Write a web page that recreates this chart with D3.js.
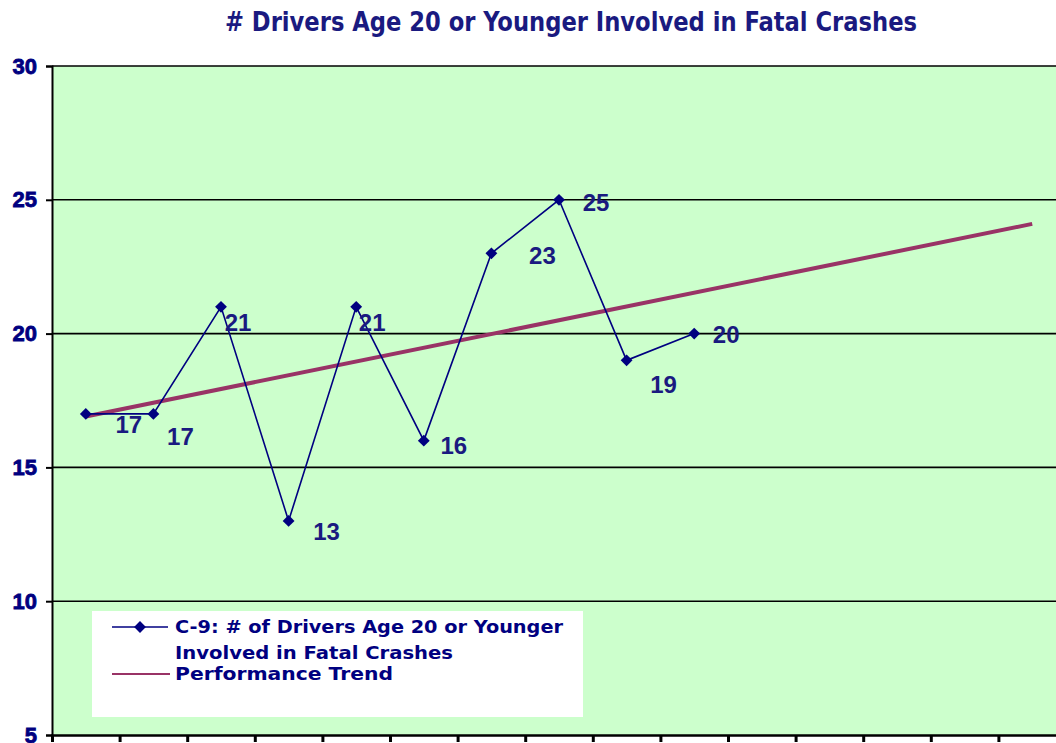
<!DOCTYPE html>
<html>
<head>
<meta charset="utf-8">
<script src="https://cdn.jsdelivr.net/npm/d3@7"></script>
<style>
  body { margin: 0; background: #fff; }
  svg { display: block; }
</style>
</head>
<body>
<div id="chart"></div>
<script>
// chart values
const slots = [1, 2, 3, 4, 5, 6, 7, 8, 9, 10, 11, 12, 13, 14, 15];
const drivers = [17, 17, 21, 13, 21, 16, 23, 25, 19, 20];
const trendSlots = [1, 15];
const trendValues = [16.9, 24.1];
const yTicks = [5, 10, 15, 20, 25, 30];
const titleText = '# Drivers Age 20 or Younger Involved in Fatal Crashes';
const legendSeries = ['C-9: # of Drivers Age 20 or Younger', 'Involved in Fatal Crashes'];
const legendTrend = 'Performance Trend';

// where each value label sits relative to its point (px)
const labelShift = [[43, 10], [27, 22], [17, 16], [38, 10], [16, 16], [30, 5], [51, 2], [37, 3], [37, 24], [32, 1]];

const W = 1056, H = 743;
const margin = { left: 52, top: 66, right: -10, bottom: 8 };
const navy = '#000080';
const trendColor = '#993366';

const svg = d3.select('#chart').append('svg')
    .attr('width', W)
    .attr('height', H);

const x = d3.scaleLinear()
    .domain([0, slots.length])
    .range([margin.left, W - margin.right]);
const y = d3.scaleLinear()
    .domain([5, 30])
    .range([H - margin.bottom, margin.top]);

// plot area
svg.append('rect')
    .attr('x', x(0))
    .attr('y', y(30))
    .attr('width', x(slots.length) - x(0))
    .attr('height', y(5) - y(30))
    .attr('fill', '#ccffcc');

// gridlines
svg.append('g')
    .selectAll('line')
    .data(yTicks.filter(d => d > 5))
    .join('line')
    .attr('x1', x(0))
    .attr('x2', x(slots.length))
    .attr('y1', d => y(d))
    .attr('y2', d => y(d))
    .attr('stroke', '#000')
    .attr('stroke-width', 1.6);

// axes
const yAxis = svg.append('g')
    .attr('transform', `translate(${x(0)},0)`)
    .call(d3.axisLeft(y).tickValues(yTicks).tickSize(6).tickPadding(9));
yAxis.select('.domain').attr('stroke', '#000').attr('stroke-width', 2);
yAxis.selectAll('.tick line').attr('stroke', '#000').attr('stroke-width', 2);
yAxis.selectAll('text')
    .attr('fill', navy)
    .attr('stroke', navy)
    .attr('stroke-width', 0.8)
    .attr('font-family', '"Liberation Sans", Arial, sans-serif')
    .attr('font-weight', 'bold')
    .attr('font-size', 22);

const xAxis = svg.append('g')
    .attr('transform', `translate(0,${y(5)})`)
    .call(d3.axisBottom(x).tickValues(d3.range(0, slots.length + 1)).tickSize(7).tickFormat(''));
xAxis.select('.domain').attr('stroke', '#000').attr('stroke-width', 2.5);
xAxis.selectAll('.tick line').attr('stroke', '#000').attr('stroke-width', 3);

// trend line
svg.append('path')
    .datum(trendSlots.map((s, i) => ({ s, v: trendValues[i] })))
    .attr('fill', 'none')
    .attr('stroke', trendColor)
    .attr('stroke-width', 4)
    .attr('d', d3.line()
        .x(d => x(d.s - 0.5))
        .y(d => y(d.v)));

// data series
const pts = drivers.map((v, i) => ({ s: slots[i], v, i }));
svg.append('path')
    .datum(pts)
    .attr('fill', 'none')
    .attr('stroke', navy)
    .attr('stroke-width', 1.6)
    .attr('d', d3.line()
        .x(d => x(d.s - 0.5))
        .y(d => y(d.v)));

const diamond = d3.symbol().type(d3.symbolSquare).size(70);
svg.append('g')
    .selectAll('path')
    .data(pts)
    .join('path')
    .attr('d', diamond)
    .attr('fill', navy)
    .attr('transform', d => `translate(${x(d.s - 0.5)},${y(d.v)}) rotate(45)`);

svg.append('g')
    .selectAll('text')
    .data(pts)
    .join('text')
    .attr('x', d => x(d.s - 0.5) + labelShift[d.i][0])
    .attr('y', d => y(d.v) + labelShift[d.i][1])
    .attr('dy', '0.36em')
    .attr('text-anchor', 'middle')
    .attr('fill', '#1a1a80')
    .attr('font-family', '"Liberation Sans", Arial, sans-serif')
    .attr('font-weight', 'bold')
    .attr('font-size', 24)
    .text(d => d.v);

// title
svg.append('text')
    .attr('x', 571)
    .attr('y', 31)
    .attr('text-anchor', 'middle')
    .attr('fill', '#1a1a80')
    .attr('font-family', '"Liberation Sans Narrow", "DejaVu Sans Condensed", sans-serif')
    .attr('font-weight', 'bold')
    .attr('font-size', 27)
    .attr('textLength', 692)
    .attr('lengthAdjust', 'spacingAndGlyphs')
    .text(titleText);

// legend
const legend = svg.append('g');
legend.append('rect')
    .attr('x', 92)
    .attr('y', 611)
    .attr('width', 491)
    .attr('height', 106)
    .attr('fill', '#fff');
legend.append('line')
    .attr('x1', 112).attr('x2', 168)
    .attr('y1', 627).attr('y2', 627)
    .attr('stroke', navy)
    .attr('stroke-width', 1.6);
legend.append('path')
    .attr('d', diamond)
    .attr('fill', navy)
    .attr('transform', 'translate(140,627) rotate(45)');
legend.append('line')
    .attr('x1', 112).attr('x2', 170)
    .attr('y1', 674).attr('y2', 674)
    .attr('stroke', trendColor)
    .attr('stroke-width', 2);

const legendRows = [
    { t: legendSeries[0], y: 633, w: 388 },
    { t: legendSeries[1], y: 659, w: 278 },
    { t: legendTrend, y: 680, w: 218 }
];
legend.selectAll('text.row')
    .data(legendRows)
    .join('text')
    .attr('class', 'row')
    .attr('x', 175)
    .attr('y', d => d.y)
    .attr('fill', navy)
    .attr('font-family', '"DejaVu Sans", Verdana, sans-serif')
    .attr('font-weight', 'bold')
    .attr('font-size', 17)
    .attr('textLength', d => d.w)
    .attr('lengthAdjust', 'spacingAndGlyphs')
    .text(d => d.t);
</script>
</body>
</html>
